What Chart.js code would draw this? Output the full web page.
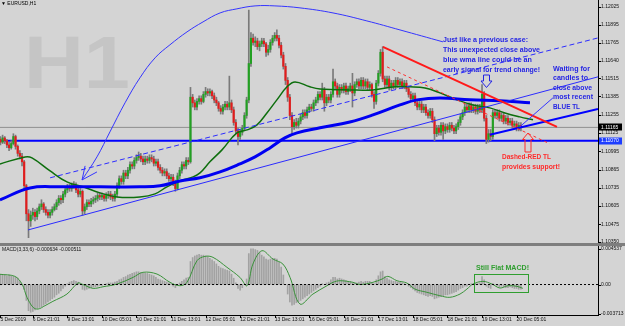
<!DOCTYPE html>
<html>
<head>
<meta charset="utf-8">
<script src="https://cdn.jsdelivr.net/npm/chart.js"></script>
<style>
  html, body { margin: 0; padding: 0; background: #d4d4d4; }
  canvas { display: block; }
</style>
</head>
<body>
<canvas id="priceChart" width="625" height="246"></canvas>
<canvas id="macdChart" width="625" height="80"></canvas>
<script>
// EURUSD H1, one entry per hourly bar (bar 0 .. 242)
const symbolTitle = 'EURUSD,H1';
const watermark = 'H1';
const firstOpen = 1.1106;

const closes = [
  1.1108, 1.1106, 1.1109, 1.1107, 1.1104, 1.1102, 1.1105, 1.1110, 1.1103, 1.1098,
  1.1096, 1.1092, 1.1075, 1.1055, 1.1050, 1.1054, 1.1056, 1.1053, 1.1057, 1.1060,
  1.1062, 1.1058, 1.1056, 1.1054, 1.1056, 1.1058, 1.1060, 1.1063, 1.1066, 1.1065,
  1.1069, 1.1072, 1.1074, 1.1073, 1.1076, 1.1075, 1.1072, 1.1069, 1.1071, 1.1057,
  1.1060, 1.1063, 1.1062, 1.1064, 1.1065, 1.1066, 1.1068, 1.1067, 1.1068, 1.1066,
  1.1068, 1.1069, 1.1067, 1.1066, 1.1069, 1.1075, 1.1080, 1.1078, 1.1084, 1.1082,
  1.1086, 1.1090, 1.1089, 1.1093, 1.1095, 1.1096, 1.1094, 1.1092, 1.1094, 1.1093,
  1.1095, 1.1094, 1.1091, 1.1092, 1.1088, 1.1086, 1.1084, 1.1085, 1.1082, 1.1080,
  1.1081, 1.1077, 1.1073, 1.1082, 1.1086, 1.1090, 1.1089, 1.1093, 1.1092, 1.1138,
  1.1134, 1.1131, 1.1135, 1.1137, 1.1135, 1.1140, 1.1142, 1.1141, 1.1142, 1.1139,
  1.1136, 1.1134, 1.1130, 1.1128, 1.1131, 1.1133, 1.1131, 1.1134, 1.1129, 1.1120,
  1.1114, 1.1110, 1.1113, 1.1116, 1.1125, 1.1136, 1.1162, 1.1180, 1.1177, 1.1178,
  1.1174, 1.1176, 1.1178, 1.1176, 1.1170, 1.1172, 1.1177, 1.1180, 1.1182, 1.1180,
  1.1175, 1.1168, 1.1160, 1.1150, 1.1138, 1.1125, 1.1117, 1.1120, 1.1118, 1.1121,
  1.1124, 1.1127, 1.1125, 1.1129, 1.1131, 1.1130, 1.1134, 1.1136, 1.1140, 1.1138,
  1.1143, 1.1134, 1.1138, 1.1136, 1.1140, 1.1149, 1.1146, 1.1140, 1.1145, 1.1143,
  1.1146, 1.1142, 1.1144, 1.1146, 1.1141, 1.1147, 1.1149, 1.1146, 1.1150, 1.1146,
  1.1149, 1.1145, 1.1147, 1.1140, 1.1135, 1.1148, 1.1155, 1.1170, 1.1151, 1.1147,
  1.1151, 1.1145, 1.1148, 1.1146, 1.1150, 1.1147, 1.1149, 1.1146, 1.1148, 1.1144,
  1.1140, 1.1137, 1.1139, 1.1134, 1.1131, 1.1133, 1.1129, 1.1131, 1.1127, 1.1125,
  1.1128, 1.1122, 1.1112, 1.1116, 1.1113, 1.1118, 1.1114, 1.1117, 1.1115, 1.1118,
  1.1116, 1.1114, 1.1117, 1.1120, 1.1124, 1.1127, 1.1131, 1.1129, 1.1132, 1.1129,
  1.1131, 1.1128, 1.1131, 1.1129, 1.1140, 1.1123, 1.1108, 1.1112, 1.1110, 1.1127,
  1.1125, 1.1127, 1.1123, 1.1125, 1.1121, 1.1123, 1.1120, 1.1121, 1.1118, 1.1119,
  1.1116, 1.1118, 1.11165
];

const highs = [
  1.1110, 1.1110, 1.1111, 1.1110, 1.1108, 1.1106, 1.1107, 1.1112, 1.1111, 1.1104,
  1.1100, 1.1098, 1.1093, 1.1076, 1.1058, 1.1057, 1.1059, 1.1058, 1.1059, 1.1062,
  1.1065, 1.1063, 1.1060, 1.1058, 1.1058, 1.1060, 1.1062, 1.1065, 1.1068, 1.1068,
  1.1071, 1.1074, 1.1076, 1.1076, 1.1077, 1.1078, 1.1077, 1.1074, 1.1073, 1.1072,
  1.1062, 1.1065, 1.1065, 1.1066, 1.1067, 1.1068, 1.1070, 1.1070, 1.1070, 1.1069,
  1.1070, 1.1071, 1.1071, 1.1069, 1.1071, 1.1077, 1.1082, 1.1082, 1.1086, 1.1086,
  1.1088, 1.1092, 1.1092, 1.1095, 1.1097, 1.1099, 1.1098, 1.1096, 1.1096, 1.1096,
  1.1097, 1.1097, 1.1096, 1.1094, 1.1094, 1.1090, 1.1088, 1.1087, 1.1087, 1.1084,
  1.1083, 1.1083, 1.1079, 1.1084, 1.1088, 1.1092, 1.1092, 1.1095, 1.1095, 1.1145,
  1.1140, 1.1136, 1.1137, 1.1139, 1.1139, 1.1142, 1.1145, 1.1144, 1.1144, 1.1143,
  1.1141, 1.1138, 1.1135, 1.1132, 1.1133, 1.1135, 1.1135, 1.1153, 1.1136, 1.1131,
  1.1122, 1.1116, 1.1115, 1.1118, 1.1127, 1.1138, 1.1200, 1.1184, 1.1183, 1.1181,
  1.1180, 1.1178, 1.1180, 1.1180, 1.1177, 1.1175, 1.1179, 1.1182, 1.1184, 1.1186,
  1.1182, 1.1177, 1.1170, 1.1162, 1.1152, 1.1140, 1.1127, 1.1122, 1.1123, 1.1123,
  1.1126, 1.1129, 1.1129, 1.1131, 1.1133, 1.1133, 1.1136, 1.1138, 1.1142, 1.1142,
  1.1148, 1.1145, 1.1140, 1.1140, 1.1142, 1.1158, 1.1151, 1.1148, 1.1147, 1.1147,
  1.1148, 1.1148, 1.1146, 1.1148, 1.1155, 1.1149, 1.1151, 1.1151, 1.1152, 1.1152,
  1.1151, 1.1151, 1.1149, 1.1148, 1.1142, 1.1150, 1.1157, 1.1172, 1.1174, 1.1153,
  1.1153, 1.1153, 1.1150, 1.1150, 1.1152, 1.1152, 1.1151, 1.1151, 1.1150, 1.1150,
  1.1146, 1.1142, 1.1141, 1.1141, 1.1136, 1.1135, 1.1135, 1.1133, 1.1133, 1.1129,
  1.1130, 1.1130, 1.1124, 1.1118, 1.1118, 1.1120, 1.1120, 1.1119, 1.1119, 1.1120,
  1.1120, 1.1118, 1.1119, 1.1122, 1.1126, 1.1129, 1.1133, 1.1133, 1.1134, 1.1134,
  1.1133, 1.1133, 1.1133, 1.1133, 1.1147, 1.1142, 1.1125, 1.1115, 1.1115, 1.1129,
  1.1129, 1.1129, 1.1129, 1.1127, 1.1127, 1.1125, 1.1125, 1.1123, 1.1123, 1.1121,
  1.1121, 1.1120, 1.1120
];

const lows = [
  1.1104, 1.1104, 1.1105, 1.1105, 1.1102, 1.1100, 1.1101, 1.1104, 1.1101, 1.1096,
  1.1094, 1.1089, 1.1072, 1.1050, 1.1038, 1.1046, 1.1051, 1.1050, 1.1051, 1.1055,
  1.1058, 1.1056, 1.1054, 1.1052, 1.1052, 1.1054, 1.1057, 1.1058, 1.1061, 1.1062,
  1.1063, 1.1067, 1.1070, 1.1071, 1.1071, 1.1073, 1.1070, 1.1067, 1.1067, 1.1054,
  1.1055, 1.1058, 1.1060, 1.1060, 1.1062, 1.1063, 1.1064, 1.1065, 1.1065, 1.1064,
  1.1064, 1.1066, 1.1065, 1.1064, 1.1064, 1.1067, 1.1073, 1.1076, 1.1076, 1.1080,
  1.1080, 1.1084, 1.1087, 1.1087, 1.1091, 1.1093, 1.1092, 1.1090, 1.1090, 1.1091,
  1.1091, 1.1092, 1.1089, 1.1089, 1.1086, 1.1084, 1.1082, 1.1082, 1.1080, 1.1078,
  1.1078, 1.1075, 1.1071, 1.1072, 1.1080, 1.1084, 1.1087, 1.1087, 1.1090, 1.1091,
  1.1131, 1.1129, 1.1129, 1.1133, 1.1133, 1.1134, 1.1138, 1.1139, 1.1139, 1.1137,
  1.1134, 1.1132, 1.1128, 1.1126, 1.1126, 1.1129, 1.1129, 1.1129, 1.1127, 1.1118,
  1.1112, 1.1104, 1.1108, 1.1111, 1.1114, 1.1123, 1.1134, 1.1160, 1.1175, 1.1174,
  1.1172, 1.1171, 1.1174, 1.1174, 1.1167, 1.1168, 1.1170, 1.1175, 1.1178, 1.1178,
  1.1173, 1.1166, 1.1158, 1.1147, 1.1135, 1.1122, 1.1112, 1.1115, 1.1116, 1.1116,
  1.1119, 1.1122, 1.1123, 1.1123, 1.1127, 1.1128, 1.1128, 1.1132, 1.1134, 1.1136,
  1.1136, 1.1128, 1.1132, 1.1134, 1.1134, 1.1138, 1.1144, 1.1138, 1.1138, 1.1141,
  1.1141, 1.1140, 1.1140, 1.1142, 1.1131, 1.1139, 1.1145, 1.1144, 1.1144, 1.1144,
  1.1144, 1.1143, 1.1143, 1.1138, 1.1130, 1.1133, 1.1146, 1.1153, 1.1149, 1.1145,
  1.1145, 1.1143, 1.1143, 1.1144, 1.1144, 1.1145, 1.1145, 1.1144, 1.1144, 1.1142,
  1.1138, 1.1135, 1.1135, 1.1132, 1.1129, 1.1129, 1.1127, 1.1127, 1.1125, 1.1123,
  1.1123, 1.1120, 1.1107, 1.1110, 1.1111, 1.1111, 1.1108, 1.1112, 1.1113, 1.1113,
  1.1114, 1.1112, 1.1112, 1.1115, 1.1118, 1.1122, 1.1125, 1.1127, 1.1127, 1.1127,
  1.1127, 1.1126, 1.1126, 1.1127, 1.1127, 1.1121, 1.1105, 1.1106, 1.1107, 1.1108,
  1.1123, 1.1123, 1.1121, 1.1121, 1.1119, 1.1119, 1.1118, 1.1118, 1.1116, 1.1116,
  1.1114, 1.1114, 1.1114
];

// moving averages, sampled along the drawn curves (bar index, price)
const wmaBars = [0.8, 14.7, 28.6, 47.1, 65.6, 74.9, 84.1, 93.4, 102.7, 111.9, 118.9, 125.8,
  132.7, 138.3, 149, 162.8, 173.5, 186, 193.9, 204.5, 218.4, 232.3, 246.2];
const wmaVals = [1.10649, 1.10734, 1.10742, 1.10742, 1.10742, 1.10749, 1.10784, 1.10806, 1.10848,
  1.10905, 1.10955, 1.11019, 1.11090, 1.11126, 1.11162, 1.11204, 1.11254, 1.11325, 1.11361,
  1.11375, 1.11361, 1.11354, 1.11340];

const maBars = [0.8, 12.4, 15.6, 24, 31.8, 39.2, 47.1, 55, 65.6, 72.6, 78.1, 84.1, 90.2, 93.4,
  98, 103.6, 110.5, 115.2, 119.8, 124.4, 129, 133.7, 137.4, 144.3, 149, 162.8, 173.5, 183.7,
  190.6, 197.6, 204.5, 212.4, 219.8, 227.6, 234.6, 241.5, 247.6];
const maVals = [1.10905, 1.10955, 1.10948, 1.10855, 1.10777, 1.10742, 1.10699, 1.10670, 1.10670,
  1.10692, 1.10742, 1.10784, 1.10813, 1.10841, 1.10920, 1.11005, 1.11126, 1.11147, 1.11183,
  1.11268, 1.11361, 1.11454, 1.11489, 1.11454, 1.11439, 1.11432, 1.11432, 1.11454, 1.11454,
  1.11446, 1.11411, 1.11361, 1.11325, 1.11304, 1.11268, 1.11240, 1.11219];

// hand drawn trend lines: [startBar, endBar] and [startPrice, endPrice]
const upperChannelBars = [24, 277.7];
const upperChannelVals = [1.10806, 1.11802];
const lowerChannelBars = [13.8, 277.7];
const lowerChannelVals = [1.10435, 1.11525];
const recentTLBars = [227.6, 277.7];
const recentTLVals = [1.11112, 1.11297];
const redTLBars = [178.1, 258.7];
const redTLVals = [1.11738, 1.11169];
const redDashBars = [180, 255.4];
const redDashVals = [1.11596, 1.11048];
const bidPrice = 1.11165;
const supportPrice = 1.11070;

// curved arrow from the first note back to the earlier case
const curveBars = [38.8, 45.7, 51.7, 58.7, 65.6, 72.6, 79.5, 87.4, 94.8, 102.7, 110.5, 118.9,
  128.1, 139.7, 155, 170.7, 186, 205.9];
const curveVals = [1.10791, 1.10955, 1.11133, 1.11340, 1.11518, 1.11660, 1.11753, 1.11845,
  1.11916, 1.11980, 1.12009, 1.12030, 1.12030, 1.12016, 1.11980, 1.11923, 1.11859, 1.11774];
const wingABars = [40.2, 38.8];
const wingAVals = [1.10891, 1.10791];
const wingBBars = [45.7, 38.8];
const wingBVals = [1.10848, 1.10791];
const waitArrowBars = [241.5, 256.8];
const waitArrowVals = [1.11169, 1.11375];

const priceTicks = [1.12025, 1.11895, 1.11765, 1.11640, 1.11515, 1.11385, 1.11255, 1.11125,
  1.10995, 1.10865, 1.10735, 1.10605, 1.10475, 1.10350];

// MACD(3,33,6)
const macdTitle = 'MACD(3,33,6) -0.000634 -0.000511';
const macdHist = [
  0.0013, 0.0013, 0.0012, 0.0012, 0.0011, 0.0012, 0.0011, 0.0010, 0.0009, 0.0008,
  0.0004, 0.0000, -0.0006, -0.0020, -0.0033, -0.0035, -0.0034, -0.0032, -0.0030, -0.0029,
  -0.0028, -0.0026, -0.0024, -0.0022, -0.0020, -0.0018, -0.0016, -0.0013, -0.0011, -0.0008,
  -0.0005, -0.0002, 0.0001, 0.0003, 0.0004, 0.0005, 0.0004, 0.0003, 0.0001, -0.0006,
  -0.0007, -0.0006, -0.0005, -0.0004, -0.0003, -0.0003, -0.0002, -0.0001, -0.0001, 0.0000,
  0.0001, 0.0002, 0.0002, 0.0002, 0.0003, 0.0004, 0.0006, 0.0007, 0.0009, 0.0010,
  0.0012, 0.0013, 0.0014, 0.0015, 0.0016, 0.0016, 0.0015, 0.0014, 0.0014, 0.0014,
  0.0013, 0.0012, 0.0011, 0.0009, 0.0007, 0.0006, 0.0005, 0.0004, 0.0003, 0.0002,
  0.0001, -0.0002, -0.0004, -0.0001, 0.0002, 0.0004, 0.0006, 0.0008, 0.0009, 0.0029,
  0.0034, 0.0036, 0.0037, 0.0038, 0.0037, 0.0037, 0.0036, 0.0035, 0.0033, 0.0031,
  0.0029, 0.0026, 0.0023, 0.0021, 0.0020, 0.0019, 0.0018, 0.0017, 0.0013, 0.0008,
  0.0002, -0.0005, -0.0007, -0.0004, 0.0000, 0.0007, 0.0039, 0.0045, 0.0045, 0.0044,
  0.0043, 0.0041, 0.0037, 0.0035, 0.0032, 0.0031, 0.0032, 0.0033, 0.0033, 0.0032,
  0.0028, 0.0022, 0.0012, 0.0000, -0.0012, -0.0022, -0.0026, -0.0025, -0.0023, -0.0022,
  -0.0020, -0.0018, -0.0016, -0.0014, -0.0012, -0.0010, -0.0008, -0.0006, -0.0004, -0.0002,
  0.0001, 0.0000, 0.0002, 0.0003, 0.0006, 0.0009, 0.0009, 0.0007, 0.0008, 0.0007,
  0.0006, 0.0005, 0.0004, 0.0004, 0.0002, 0.0002, 0.0002, 0.0003, 0.0004, 0.0003,
  0.0004, 0.0004, 0.0004, 0.0002, 0.0001, 0.0006, 0.0011, 0.0016, 0.0017, 0.0010,
  0.0008, 0.0006, 0.0005, 0.0004, 0.0004, 0.0003, 0.0003, 0.0002, 0.0001, 0.0000,
  -0.0002, -0.0004, -0.0006, -0.0008, -0.0010, -0.0011, -0.0012, -0.0013, -0.0014, -0.0015,
  -0.0014, -0.0015, -0.0018, -0.0017, -0.0016, -0.0015, -0.0014, -0.0013, -0.0013, -0.0012,
  -0.0011, -0.0010, -0.0009, -0.0007, -0.0005, -0.0004, -0.0002, -0.0002, 0.0000, 0.0001,
  0.0000, 0.0001, 0.0001, 0.0002, 0.0010, 0.0006, -0.0002, -0.0004, -0.0005, 0.0001,
  0.0000, -0.0001, -0.0003, -0.0002, -0.0003, -0.0004, -0.0004, -0.0003, -0.0004, -0.0005,
  -0.0005, -0.0006, -0.0006
];
const signalBars = [0.8, 7.7, 11, 13.3, 16.1, 18.4, 21.6, 25.3, 31.8, 36.9, 39.2, 43.9, 48.5,
  55, 62.4, 67, 73.5, 79.5, 84.1, 87.4, 92, 95.7, 99.4, 105.9, 111.9, 115.2, 117.9, 122.1,
  127.2, 131.8, 135.1, 139.7, 145.7, 152.2, 155, 158.2, 164.2, 167.5, 173.5, 177.7, 180.4,
  184.6, 189.2, 192.9, 198.5, 204.5, 209.1, 213.8, 217, 219.8, 224.4, 228.6, 232.3, 236,
  240.2, 242.9];
const signalVals = [0.00129, 0.00103, 0.00006, -0.00161, -0.00287, -0.00309, -0.00267, -0.00212,
  -0.0012, 0.00019, 0, -0.00048, -0.00028, 0.00006, 0.0009, 0.00154, 0.00132, 0.00028,
  -0.00015, 0.00028, 0.003, 0.00355, 0.00343, 0.00217, 0.0009, -0.00015, 0.00258, 0.00426,
  0.00321, 0.00258, 0.0009, -0.00246, -0.0012, -0.00015, 0.00028, 0.00048, 0.00028, 0,
  0.00028, 0.00069, 0.00103, 0.00048, 0.00019, -0.00057, -0.00098, -0.00141, -0.00161,
  -0.0012, -0.00057, 0.00006, 0.0004, 0.00006, -0.00044, -0.00015, -0.00023, -0.00048];
const macdTicks = [0.004537, 0, -0.003713];

const timeTicks = [1, 16, 32, 48, 64, 80, 96, 112, 128, 144, 160, 176, 192, 208, 224, 240];
const timeLabels = ['5 Dec 2019', '6 Dec 21:01', '9 Dec 13:01', '10 Dec 05:01', '10 Dec 21:01',
  '11 Dec 13:01', '12 Dec 05:01', '12 Dec 21:01', '13 Dec 13:01', '16 Dec 05:01', '16 Dec 21:01',
  '17 Dec 13:01', '18 Dec 05:01', '18 Dec 21:01', '19 Dec 13:01', '20 Dec 05:01'];

const X_MIN = 0.8, X_MAX = 277.7;
const FONT = '"Liberation Sans", Arial, sans-serif';
Chart.defaults.font.family = FONT;

function xy(xs, ys) { return xs.map((x, i) => ({ x: x, y: ys[i] })); }
function flat(v) { return xy([X_MIN, X_MAX], [v, v]); }

const opens = closes.map((c, i) => i === 0 ? firstOpen : closes[i - 1]);
const bodies = closes.map((c, i) => ({ x: i, y: [opens[i], c] }));
const wicks = closes.map((c, i) => ({ x: i, y: [lows[i], highs[i]] }));
const bodyColors = closes.map((c, i) => c >= opens[i] ? '#22a022' : '#e21c1c');

function line(data, color, width, order, extra) {
  return Object.assign({ type: 'line', data: data, borderColor: color, borderWidth: width,
    pointRadius: 0, fill: false, order: order }, extra || {});
}

function rightAxis(min, max, ticks, fmt) {
  return {
    type: 'linear', position: 'right', min: min, max: max,
    grid: { display: false, drawTicks: false }, border: { display: false },
    ticks: { padding: 3, color: '#111', autoSkip: false, font: { size: 5 }, callback: fmt },
    afterBuildTicks: s => { s.ticks = ticks.map(v => ({ value: v })); },
    afterFit: s => { s.width = 27; s.paddingTop = 0; s.paddingBottom = 0; }
  };
}

function priceBox(ctx, x, y, fill, text) {
  ctx.fillStyle = fill;
  ctx.fillRect(x + 1, Math.round(y) - 3.5, 23, 7);
  ctx.fillStyle = '#fff';
  ctx.font = '5px ' + FONT;
  ctx.textAlign = 'left';
  ctx.textBaseline = 'middle';
  ctx.fillText(text, x + 3, y);
}

function hollowArrow(ctx, cx, tipY, dir, len, color) {
  // dir 1 points down, -1 points up
  const head = 6.5, hw = 5.5, sw = 3;
  const baseY = tipY - dir * head, tailY = tipY - dir * len;
  ctx.beginPath();
  ctx.moveTo(cx, tipY);
  ctx.lineTo(cx - hw, baseY);
  ctx.lineTo(cx - sw, baseY);
  ctx.lineTo(cx - sw, tailY);
  ctx.lineTo(cx + sw, tailY);
  ctx.lineTo(cx + sw, baseY);
  ctx.lineTo(cx + hw, baseY);
  ctx.closePath();
  ctx.strokeStyle = color;
  ctx.lineWidth = 1;
  ctx.stroke();
}

const notes = [
  { lines: ['Just like a previous case:', 'This unexpected close above', 'blue wma line could be an',
    'early signal for trend change!'], x: 443, y: 40, lh: 10, color: '#2424e4', w: [85, 97, 89, 97] },
  { lines: ['Waiting for', 'candles to', 'close above', 'most recent', 'BLUE TL'],
    x: 553, y: 68.5, lh: 9.5, color: '#2424e4', w: [37, 35, 39, 40, 27] },
  { lines: ['Dashed-RED TL', 'provides support!'], x: 502, y: 157, lh: 9.5, color: '#ff2a2a', w: [49, 58] }
];

function drawNote(ctx, n) {
  ctx.fillStyle = n.color;
  ctx.font = 'bold 7.5px ' + FONT;
  ctx.textAlign = 'left';
  ctx.textBaseline = 'middle';
  n.lines.forEach((t, k) => ctx.fillText(t, n.x, n.y + k * n.lh, n.w[k]));
}

const mainDecor = {
  id: 'mainDecor',
  beforeDatasetsDraw(chart) {
    const ctx = chart.ctx;
    ctx.save();
    ctx.fillStyle = '#c5c5c5';
    ctx.font = 'bold 74px ' + FONT;
    ctx.textBaseline = 'alphabetic';
    ctx.translate(24, 88);
    ctx.scale(1.12, 1);
    ctx.fillText(watermark, 0, 0);
    ctx.restore();
    ctx.save();
    ctx.fillStyle = '#000';
    ctx.font = '5px ' + FONT;
    ctx.textBaseline = 'middle';
    ctx.fillText('\u25BC ' + symbolTitle, 1, 4);
    ctx.restore();
  },
  afterDraw(chart) {
    const { ctx, chartArea: a, scales: { y } } = chart;
    ctx.save();
    ctx.fillStyle = '#000';
    ctx.fillRect(a.right, 0, 1, a.bottom);
    y.ticks.forEach(t => ctx.fillRect(a.right, Math.round(y.getPixelForValue(t.value)), 3, 1));
    priceBox(ctx, a.right, y.getPixelForValue(bidPrice), '#000', bidPrice.toFixed(5));
    priceBox(ctx, a.right, y.getPixelForValue(supportPrice), '#1d3dff', supportPrice.toFixed(5));
    notes.forEach(n => drawNote(ctx, n));
    hollowArrow(ctx, 486.5, 87.5, 1, 12.5, '#2424e4');
    hollowArrow(ctx, 528, 133, -1, 19, '#ff2a2a');
    ctx.fillStyle = '#7e7e7e';
    ctx.fillRect(0, a.bottom, chart.width, 3);
    ctx.restore();
  }
};

new Chart(document.getElementById('priceChart'), {
  type: 'bar',
  data: {
    datasets: [
      line(flat(bidPrice), '#8f8f8f', 1, 14),
      line(flat(supportPrice), '#0000ff', 2, 13),
      { type: 'bar', data: wicks, backgroundColor: '#7a7a7a', barThickness: 1, grouped: false, order: 12 },
      { type: 'bar', data: bodies, backgroundColor: bodyColors, barThickness: 1.5, minBarLength: 1,
        grouped: false, order: 11 },
      line(xy(maBars, maVals), '#0d6e0d', 1.5, 10, { tension: 0.4 }),
      line(xy(wmaBars, wmaVals), '#0000f2', 3, 9, { tension: 0.4 }),
      line(xy(upperChannelBars, upperChannelVals), '#2b2bff', 1, 8, { borderDash: [5, 3] }),
      line(xy(lowerChannelBars, lowerChannelVals), '#2b2bff', 1, 7),
      line(xy(recentTLBars, recentTLVals), '#0000ff', 2, 6),
      line(xy(redTLBars, redTLVals), '#ff1a1a', 2, 5),
      line(xy(redDashBars, redDashVals), '#ff3030', 1, 4, { borderDash: [3, 3] }),
      line(xy(curveBars, curveVals), '#3434ff', 1, 3, { tension: 0.4 }),
      line(xy(wingABars, wingAVals), '#3434ff', 1, 3),
      line(xy(wingBBars, wingBVals), '#3434ff', 1, 3),
      line(xy(waitArrowBars, waitArrowVals), '#3434ff', 1, 3)
    ]
  },
  options: {
    responsive: false,
    animation: false,
    events: [],
    layout: { padding: { top: 0, bottom: 3, left: 0, right: 0 } },
    plugins: { legend: { display: false }, tooltip: { enabled: false } },
    scales: {
      x: { type: 'linear', min: X_MIN, max: X_MAX, offset: false, display: false },
      y: rightAxis(1.10342, 1.12072, priceTicks, v => Number(v).toFixed(5))
    }
  },
  plugins: [mainDecor]
});

const macdDecor = {
  id: 'macdDecor',
  afterDraw(chart) {
    const { ctx, chartArea: a, scales: { x, y } } = chart;
    ctx.save();
    ctx.fillStyle = '#000';
    ctx.fillRect(a.right, 0, 1, a.bottom + 1);
    ctx.fillRect(0, a.bottom, a.right + 1, 1);
    y.ticks.forEach(t => ctx.fillRect(a.right, Math.round(y.getPixelForValue(t.value)), 3, 1));
    x.ticks.forEach(t => ctx.fillRect(Math.round(x.getPixelForValue(t.value)), a.bottom, 1, 3));
    ctx.fillStyle = '#111';
    ctx.font = '5px ' + FONT;
    ctx.textBaseline = 'middle';
    ctx.textAlign = 'left';
    ctx.fillText(macdTitle, 2, a.top + 3);
    ctx.strokeStyle = '#2f9e2f';
    ctx.lineWidth = 1;
    ctx.strokeRect(474.5, 28.5, 54, 18);
    ctx.fillStyle = '#2f9e2f';
    ctx.font = 'bold 7.5px ' + FONT;
    ctx.fillText('Still Flat MACD!', 476, 22, 53);
    ctx.restore();
  }
};

new Chart(document.getElementById('macdChart'), {
  type: 'bar',
  data: {
    datasets: [
      { type: 'bar', data: macdHist.map((v, i) => ({ x: i, y: v })), backgroundColor: '#a2a2a2',
        barThickness: 1, grouped: false, order: 3 },
      line(xy(signalBars, signalVals), '#3a923a', 1, 2, { tension: 0.35 }),
      line(flat(0), '#000', 1, 1, { borderDash: [2, 2] })
    ]
  },
  options: {
    responsive: false,
    animation: false,
    events: [],
    layout: { padding: { top: 1, bottom: 0, left: 0, right: 0 } },
    plugins: { legend: { display: false }, tooltip: { enabled: false } },
    scales: {
      x: {
        type: 'linear', min: X_MIN, max: X_MAX, offset: false, position: 'bottom',
        grid: { display: false, drawTicks: false }, border: { display: false },
        ticks: { padding: 2, align: 'start', maxRotation: 0, autoSkip: false, color: '#111',
          font: { size: 5 }, callback: (v, i) => timeLabels[i] },
        afterBuildTicks: s => { s.ticks = timeTicks.map(v => ({ value: v })); },
        afterFit: s => { s.height = 11; s.paddingLeft = 0; s.paddingRight = 0; }
      },
      y: rightAxis(-0.00384, 0.00473, macdTicks, v => v === 0 ? '0.00' : Number(v).toFixed(6))
    }
  },
  plugins: [macdDecor]
});
</script>
</body>
</html>
